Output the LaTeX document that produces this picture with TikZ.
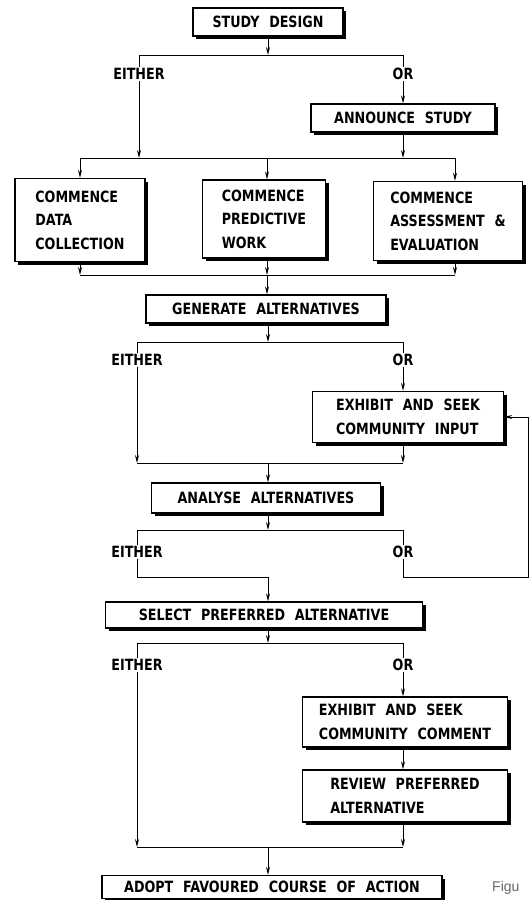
\documentclass[tikz,border=0pt]{standalone}
\usepackage{fontspec}
\newfontfamily\chartfont{DejaVu Sans}[FakeStretch=0.82,WordSpace=2.2]
\newfontfamily\capfont{Liberation Sans}
\usepackage{tikz}
\usetikzlibrary{arrows.meta, shadows}
\tikzstyle{arrow} = [line width=1pt,->,>={Stealth[length=8pt,width=4pt]}]
\tikzstyle{link} = [line width=1pt]
\tikzstyle{box} = [rectangle, draw, line width=1.3pt, fill=white, align=left,
  font=\chartfont\bfseries\fontsize{15.5}{23.5}\selectfont,
  drop shadow={shadow xshift=3pt, shadow yshift=-3pt, fill=black, opacity=1}]
\tikzstyle{choice} = [fill=white, inner sep=1.5pt, font=\chartfont\bfseries\fontsize{15.5}{17}\selectfont]

\begin{document}
\begin{tikzpicture}[x=1pt, y=-1pt]
\useasboundingbox (0,0) rectangle (530,900);

\node [box, minimum width=150, minimum height=28] (design) at (268,22) {STUDY DESIGN};
\node [box, minimum width=184, minimum height=28] (announce) at (403,118) {ANNOUNCE STUDY};

\node [box, minimum width=130, minimum height=83] (collect) at (80,220) {COMMENCE\\DATA\\COLLECTION};
\node [box, minimum width=123, minimum height=78] (predict) at (264,219) {COMMENCE\\PREDICTIVE\\WORK};
\node [box, minimum width=149, minimum height=79] (assess) at (448,221) {COMMENCE\\ASSESSMENT \&\\EVALUATION};

\node [box, minimum width=240, minimum height=28] (generate) at (266,309) {GENERATE ALTERNATIVES};
\node [box, minimum width=191, minimum height=51] (input) at (408,417) {EXHIBIT AND SEEK\\COMMUNITY INPUT};

\node [box, minimum width=229, minimum height=30] (analyse) at (266,498) {ANALYSE ALTERNATIVES};
\node [box, minimum width=317, minimum height=26] (select) at (264,615) {SELECT PREFERRED ALTERNATIVE};

\node [box, minimum width=205, minimum height=50] (comment) at (405,722) {EXHIBIT AND SEEK\\COMMUNITY COMMENT};
\node [box, minimum width=205, minimum height=52] (review) at (405,796) {REVIEW PREFERRED\\ALTERNATIVE};
\node [box, minimum width=340, minimum height=23] (adopt) at (272,887) {ADOPT FAVOURED COURSE OF ACTION};

% junctions
\coordinate (j1) at (268,55);   \coordinate (e1) at (139,55);  \coordinate (o1) at (403,55);
\coordinate (j2) at (267,158);  \coordinate (s1) at (80,158);  \coordinate (s3) at (455,158);
\coordinate (j3) at (267,275);  \coordinate (t1) at (80,275);  \coordinate (t3) at (455,275);
\coordinate (j4) at (268,342);  \coordinate (e2) at (137,342); \coordinate (o2) at (403,342);
\coordinate (j5) at (268,463);  \coordinate (e2b) at (137,463); \coordinate (o2b) at (403,463);
\coordinate (j6) at (268,530);  \coordinate (e3) at (137,530); \coordinate (o3) at (403,530);
\coordinate (j7) at (268,577);  \coordinate (e3b) at (137,577); \coordinate (o3b) at (403,577);
\coordinate (loop) at (528,577);
\coordinate (j8) at (268,643);  \coordinate (e4) at (137,643); \coordinate (o4) at (403,643);
\coordinate (j9) at (268,847);  \coordinate (e4b) at (137,847); \coordinate (o4b) at (403,847);

\draw [arrow] (design) -- (j1);
\draw [link] (e1) -- (o1);
\draw [arrow] (o1) -- (announce.north -| o1);
\draw [arrow] (e1) -- (e1 |- j2);
\draw [arrow] (announce.south -| o1) -- (o1 |- j2);

\draw [link] (s1) -- (s3);
\draw [arrow] (s1) -- (collect.north -| s1);
\draw [arrow] (j2) -- (predict.north -| j2);
\draw [arrow] (s3) -- (assess.north -| s3);

\draw [arrow] (collect.south -| t1) -- (t1);
\draw [arrow] (predict.south -| j3) -- (j3);
\draw [arrow] (assess.south -| t3) -- (t3);
\draw [link] (t1) -- (t3);
\draw [arrow] (j3) -- (generate.north -| j3);

\draw [arrow] (generate.south -| j4) -- (j4);
\draw [link] (e2) -- (o2);
\draw [arrow] (e2) -- (e2b);
\draw [arrow] (o2) -- (input.north -| o2);
\draw [arrow] (input.south -| o2) -- (o2b);
\draw [link] (e2b) -- (o2b);
\draw [arrow] (j5) -- (analyse.north -| j5);

\draw [arrow] (analyse.south -| j6) -- (j6);
\draw [link] (e3) -- (o3);
\draw [link] (e3) -- (e3b) -- (j7);
\draw [arrow] (j7) -- (select.north -| j7);
\draw [arrow] (o3) -- (o3b) -- (loop) |- (input.east);

\draw [arrow] (select.south -| j8) -- (j8);
\draw [link] (e4) -- (o4);
\draw [arrow] (e4) -- (e4b);
\draw [arrow] (o4) -- (comment.north -| o4);
\draw [arrow] (comment.south -| o4) -- (review.north -| o4);
\draw [arrow] (review.south -| o4) -- (o4b);
\draw [link] (e4b) -- (o4b);
\draw [arrow] (j9) -- (adopt.north -| j9);

% either / or labels
\node [choice] (either1) at (139,74) {EITHER};
\node [choice] (or1) at (403,74) {OR};
\node [choice] (either2) at (137,360) {EITHER};
\node [choice] (or2) at (403,360) {OR};
\node [choice] (either3) at (137,552) {EITHER};
\node [choice] (or3) at (403,552) {OR};
\node [choice] (either4) at (137,665) {EITHER};
\node [choice] (or4) at (403,665) {OR};

\node [anchor=north west, inner sep=0pt, text=black!60, font=\capfont\fontsize{14}{16}\selectfont] (fig) at (492,881) {Figu};
\end{tikzpicture}
\end{document}
